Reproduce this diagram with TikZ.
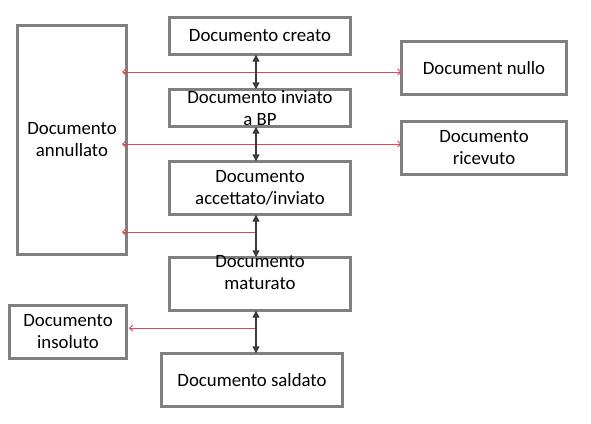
\documentclass[tikz,border=0pt]{standalone}
\usepackage{fontspec}
\setmainfont{Carlito}
\usetikzlibrary{arrows.meta}
\definecolor{boxgray}{RGB}{128,128,128}
\definecolor{arrgray}{RGB}{60,60,60}
\definecolor{arrred}{RGB}{226,66,86}
\begin{document}
\begin{tikzpicture}[x=1pt,y=-1pt,
  box/.style={draw=boxgray,line width=2.6pt,fill=white,inner sep=0pt,outer sep=0pt,rectangle},
  lbl/.style={font=\fontsize{18.8}{22}\selectfont,align=center,inner sep=0pt,text=black},
  blkarr/.style={draw=arrgray,line width=1.4pt,{Triangle[length=7pt,width=7pt]}-{Triangle[length=7pt,width=7pt]}},
  redarr/.style={draw=arrred,line width=0.9pt}
]
\useasboundingbox[fill=white] (0,0) rectangle (591,423);
\node[box,minimum width=109.4pt,minimum height=229.4pt,label={[lbl]center:Documento\\annullato}] (ann) at (72,140) {};
\node[box,minimum width=181.4pt,minimum height=37.4pt,label={[lbl]center:Documento creato}] (cre) at (260,36) {};
\node[box,minimum width=165.4pt,minimum height=53.4pt,label={[lbl]center:Document nullo}] (nul) at (484,68) {};
\node[box,minimum width=181.4pt,minimum height=37.4pt,label={[lbl]center:Documento inviato\\a BP}] (inv) at (260,108) {};
\node[box,minimum width=165.4pt,minimum height=53.4pt,label={[lbl]center:Documento\\ricevuto}] (ric) at (484,148) {};
\node[box,minimum width=181.4pt,minimum height=53.4pt,label={[lbl]center:Documento\\accettato/inviato}] (acc) at (260,188) {};
\node[box,minimum width=181.4pt,minimum height=53.4pt,label={[lbl,yshift=11pt]center:Documento\\maturato}] (mat) at (260,284) {};
\node[box,minimum width=117.4pt,minimum height=53.4pt,label={[lbl]center:Documento\\insoluto}] (ins) at (68,332) {};
\node[box,minimum width=181.4pt,minimum height=53.4pt,label={[lbl]center:Documento saldato}] (sal) at (252,380) {};

\coordinate (vx) at (256,0);
\coordinate (r1) at (122,72);
\coordinate (r2) at (122,144);
\coordinate (r3) at (122,232);
\coordinate (r4) at (129,328);
\coordinate (j3) at (256,232);
\coordinate (j4) at (256,328);

% red connectors
\draw[redarr,{Straight Barb[length=3pt,width=6pt]}-{Straight Barb[length=3pt,width=6pt]}] (r1) -- (nul.west |- r1);
\draw[redarr,{Straight Barb[length=3pt,width=6pt]}-{Straight Barb[length=3pt,width=6pt]}] (r2) -- (ric.west |- r2);
\draw[redarr,-{Straight Barb[length=3pt,width=6pt]}] (j3) -- (r3);
\draw[redarr,-{Straight Barb[length=3pt,width=6pt]}] (j4) -- (r4);

% black connectors
\draw[blkarr] (cre.south -| vx) -- (inv.north -| vx);
\draw[blkarr] (inv.south -| vx) -- (acc.north -| vx);
\draw[blkarr] (acc.south -| vx) -- (mat.north -| vx);
\draw[blkarr] (mat.south -| vx) -- (sal.north -| vx);
\end{tikzpicture}
\end{document}
